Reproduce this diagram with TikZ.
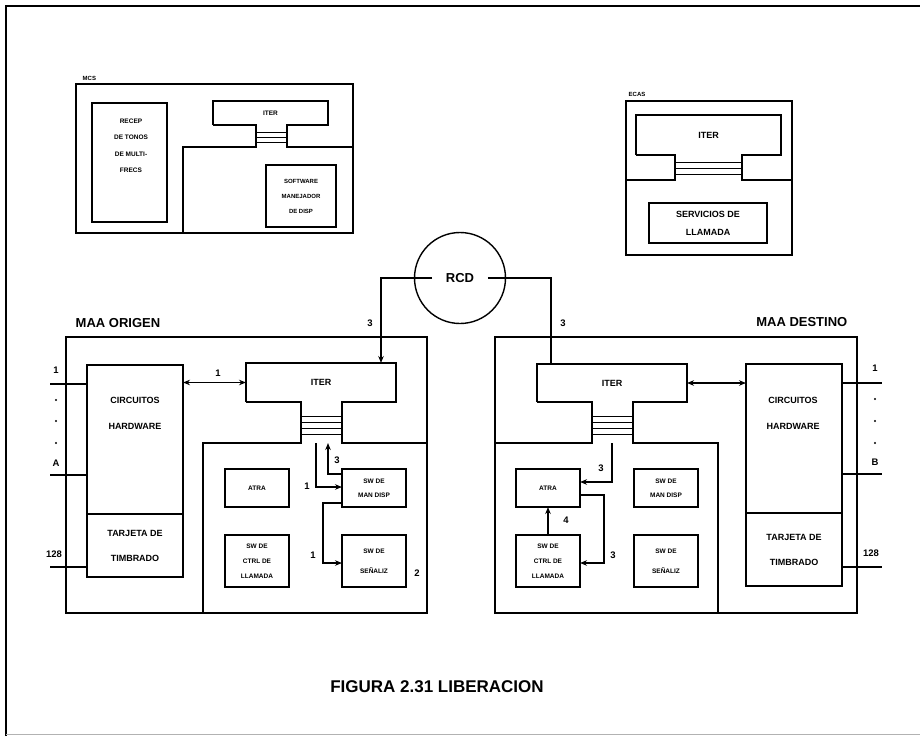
\documentclass[tikz,border=0pt]{standalone}
\usepackage{fontspec}
\setmainfont{Liberation Sans}
\usetikzlibrary{calc,arrows.meta}

\begin{document}
\begin{tikzpicture}[x=1pt, y=-1pt, line width=1.4pt]
    % Styles
    \tikzstyle{unit} = [rectangle, draw, anchor=north west, inner sep=0pt, outer sep=0pt, line width=1.4pt]
    \tikzstyle{small} = [font=\bfseries\fontsize{6.5}{14}\selectfont, align=center]
    \tikzstyle{medium} = [font=\bfseries\fontsize{9}{26}\selectfont, align=center]
    \tikzstyle{title} = [font=\bfseries\fontsize{13}{15}\selectfont, inner sep=0pt]
    \tikzstyle{num} = [font=\bfseries\fontsize{9.5}{11}\selectfont, inner sep=0pt]
    \tikzstyle{arrow} = [-{Stealth[length=7pt,width=5.5pt]}, line width=1.3pt]
    \tikzstyle{dblarrow} = [{Stealth[length=7pt,width=5.5pt]}-{Stealth[length=7pt,width=5.5pt]}, line width=1.3pt]

    \useasboundingbox (0,0) rectangle (920,736);

    % Page frame
    \draw[line width=2pt] (6,736) -- (6,6) -- (920,6);
    \draw[gray!60, line width=1pt] (6,734) -- (920,734);

    % === MCS ===
    \node[unit, minimum width=277, minimum height=149] (mcs) at (76,84) {};
    \node[anchor=base west, inner sep=0pt, font=\bfseries\fontsize{6}{7}\selectfont] (mcslbl) at (82,80) {MCS};
    \node[unit, minimum width=75, minimum height=119] (recep) at (92,103) {};
    \node[small, font=\bfseries\fontsize{6.5}{16.5}\selectfont] (receptxt) at (131,146) {RECEP\\DE TONOS\\DE MULTI-\\FRECS};
    \node[unit, draw=none, minimum width=115, minimum height=24, small] (iterM) at (213,101) {ITER};
    \draw (iterM.south west) |- (iterM.north east) -- (iterM.south east) -- (287,125) -- (287,147) -- (353,147);
    \draw (iterM.south west) -- (256,125) -- (256,147) -- (183,147) -- (183,233);
    \foreach \y in {132,137,142}
        \draw[line width=1pt] (256,\y) -- (287,\y);
    \node[unit, minimum width=70, minimum height=62, small, font=\bfseries\fontsize{6}{15}\selectfont] (softw) at (266,165) {SOFTWARE\\MANEJADOR\\DE DISP};

    % === ECAS ===
    \node[unit, minimum width=166, minimum height=154] (ecas) at (626,101) {};
    \node[anchor=base west, inner sep=0pt, font=\bfseries\fontsize{6}{7}\selectfont] (ecaslbl) at (628,96) {ECAS};
    \node[unit, draw=none, minimum width=145, minimum height=40, medium] (iterE) at (636,115) {ITER};
    \draw (iterE.south west) |- (iterE.north east) -- (iterE.south east) -- (742,155) -- (742,180) -- (792,180);
    \draw (iterE.south west) -- (675,155) -- (675,180) -- (626,180);
    \foreach \y in {162,168,174}
        \draw[line width=1pt] (675,\y) -- (742,\y);
    \node[unit, minimum width=118, minimum height=40, medium, font=\bfseries\fontsize{9}{18}\selectfont] (servicios) at (649,203) {SERVICIOS DE\\LLAMADA};

    % === RCD ===
    \node[circle, draw, minimum size=91, inner sep=0pt] (rcd) at (460,278) {};
    \node[font=\bfseries\fontsize{13}{15}\selectfont, inner xsep=13pt] (rcdtxt) at (rcd.center) {RCD};

    % === MAA ORIGEN ===
    \node[unit, minimum width=361, minimum height=276] (maaO) at (66,337) {};
    \node[title, anchor=base west] (maaOlbl) at (75,327) {MAA ORIGEN};
    \node[unit, minimum width=96, minimum height=149] (hwO) at (87,365) {};
    \node[medium] (hwOtxt) at (135,413) {CIRCUITOS\\HARDWARE};
    \node[unit, minimum width=96, minimum height=63, medium, font=\bfseries\fontsize{9}{25}\selectfont] (tarjO) at (87,514) {TARJETA DE\\TIMBRADO};
    \node[unit, draw=none, minimum width=150, minimum height=39, medium] (iterO) at (246,363) {ITER};
    \draw (iterO.south west) |- (iterO.north east) -- (iterO.south east) -- (342,402) -- (342,443) -- (427,443);
    \draw (iterO.south west) -- (301,402) -- (301,443) -- (203,443) -- (203,613);
    \foreach \y in {416,422,428,434}
        \draw[line width=1pt] (301,\y) -- (342,\y);
    \coordinate (busO) at (301,443);
    \node[unit, minimum width=64, minimum height=38, small] (atraO) at (225,469) {ATRA};
    \node[unit, minimum width=64, minimum height=52, small, font=\bfseries\fontsize{6.5}{15}\selectfont] (ctrlO) at (225,535) {SW DE\\CTRL DE\\LLAMADA};
    \node[unit, minimum width=64, minimum height=38, small] (manO) at (342,469) {SW DE\\MAN DISP};
    \node[unit, minimum width=64, minimum height=52, small, font=\bfseries\fontsize{6.5}{20}\selectfont] (senO) at (342,535) {SW DE\\SEÑALIZ};

    % inputs
    \foreach \y in {384,475}
        \draw (50,\y) -- (hwO.west |- 0,\y);
    \draw (50,567) -- (tarjO.west |- 0,567);
    \foreach \y in {400,421,443}
        \fill (56,\y) circle (1.1);
    \node[num] (inO1) at (56,370) {1};
    \node[num] (inOA) at (56,463) {A};
    \node[num] (inO128) at (54,554) {128};

    % === MAA DESTINO ===
    \node[unit, minimum width=362, minimum height=276] (maaD) at (495,337) {};
    \node[title, anchor=base east] (maaDlbl) at (848,326) {MAA DESTINO};
    \node[unit, draw=none, minimum width=150, minimum height=38, medium] (iterD) at (537,364) {ITER};
    \draw (iterD.south west) |- (iterD.north east) -- (iterD.south east) -- (633,402) -- (633,443) -- (718,443) -- (718,613);
    \draw (iterD.south west) -- (592,402) -- (592,443) -- (495,443);
    \foreach \y in {416,422,428,434}
        \draw[line width=1pt] (592,\y) -- (633,\y);
    \coordinate (busD) at (592,443);
    \node[unit, minimum width=96, minimum height=149] (hwD) at (746,364) {};
    \node[medium] (hwDtxt) at (793,413) {CIRCUITOS\\HARDWARE};
    \node[unit, minimum width=96, minimum height=73, medium, font=\bfseries\fontsize{9}{25}\selectfont] (tarjD) at (746,513) {TARJETA DE\\TIMBRADO};
    \node[unit, minimum width=64, minimum height=38, small] (atraD) at (516,469) {ATRA};
    \node[unit, minimum width=64, minimum height=52, small, font=\bfseries\fontsize{6.5}{15}\selectfont] (ctrlD) at (516,535) {SW DE\\CTRL DE\\LLAMADA};
    \node[unit, minimum width=64, minimum height=38, small] (manD) at (634,469) {SW DE\\MAN DISP};
    \node[unit, minimum width=64, minimum height=52, small, font=\bfseries\fontsize{6.5}{20}\selectfont] (senD) at (634,535) {SW DE\\SEÑALIZ};

    % outputs
    \foreach \y in {383,474}
        \draw (hwD.east |- 0,\y) -- (882,\y);
    \draw (tarjD.east |- 0,567) -- (882,567);
    \foreach \y in {399,421,443}
        \fill (875,\y) circle (1.1);
    \node[num] (outD1) at (875,368) {1};
    \node[num] (outDB) at (875,462) {B};
    \node[num] (outD128) at (871,553) {128};

    % === ARROWS ===
    \draw[arrow] (rcdtxt.west) -| ($(iterO.north east)+(-15,0)$);
    \draw[line width=1.3pt] (rcdtxt.east) -| ($(iterD.north west)+(14,0)$);
    \node[num] at (370,323) {3};
    \node[num] at (563,323) {3};

    \draw[dblarrow] (hwO.north east |- iterO.west) -- (iterO.west);
    \node[num] at (218,373) {1};
    \draw[dblarrow] (iterD.east) -- (hwD.north west |- iterD.east);

    % origen software
    \draw[arrow] ($(manO.north west)+(0,5)$) -| ($(busO)+(27,0)$);
    \node[num] at (337,460) {3};
    \draw[arrow] ($(busO)+(15,0)$) |- ($(manO.south west)+(0,-20)$);
    \node[num] at (307,486) {1};
    \draw[arrow] ($(manO.south west)+(0,-4)$) -- ++(-19,0) |- ($(senO.north west)+(0,28)$);
    \node[num] at (313,555) {1};
    \node[num] at (417,573) {2};

    % destino software
    \draw[arrow] ($(busD)+(20,0)$) |- ($(atraD.north east)+(0,13)$);
    \node[num] at (601,468) {3};
    \draw[arrow] ($(atraD.north east)+(0,26)$) -- ++(24,0) |- ($(ctrlD.north east)+(0,28)$);
    \node[num] at (613,555) {3};
    \draw[arrow] (ctrlD.north) -- (atraD.south);
    \node[num] at (566,520) {4};

    % Caption
    \node[font=\bfseries\fontsize{17}{20}\selectfont] (caption) at (437,687) {FIGURA 2.31 LIBERACION};
\end{tikzpicture}
\end{document}
